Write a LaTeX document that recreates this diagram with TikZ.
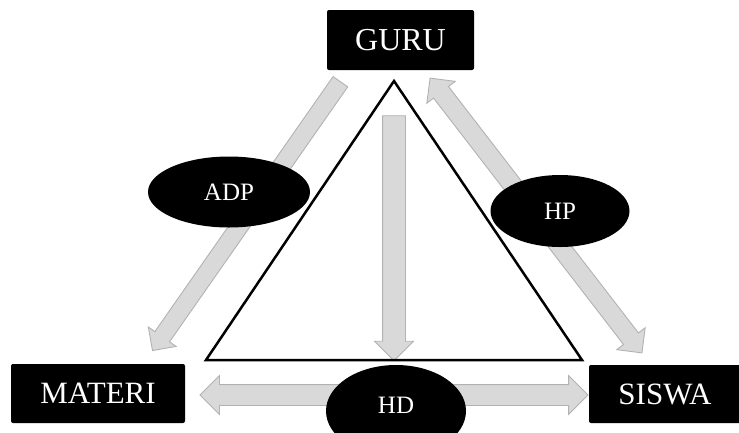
\documentclass[tikz,border=0pt]{standalone}
\usepackage{fontspec}
\setmainfont{Liberation Serif}
\usetikzlibrary{shapes.arrows,shapes.geometric}
\begin{document}
\begin{tikzpicture}[x=1pt,y=-1pt,
  blackbox/.style={fill=black,text=white,rounded corners=2pt,inner sep=0pt},
  blackoval/.style={ellipse,fill=black,text=white,inner sep=0pt},
  fatarrow/.style={single arrow,fill=gray!30,draw=gray!60,line width=0.9pt,
    inner xsep=0pt,text height=0pt,text depth=0pt,text width=0pt,
    single arrow tip angle=90,anchor=center},
  fatdouble/.style={double arrow,fill=gray!30,draw=gray!60,line width=0.9pt,
    inner xsep=0pt,text height=0pt,text depth=0pt,text width=0pt,
    double arrow tip angle=90,anchor=center}]
\useasboundingbox (0,0) rectangle (739,432);
\clip (0,0) rectangle (739,432);
% fat arrows
\node[fatarrow,inner ysep=8.5pt,single arrow head extend=8pt,
  minimum height=328pt,rotate=235.05] (adparrow) at (249,212.5) {};
\node[fatdouble,inner ysep=9pt,double arrow head extend=8.5pt,
  minimum height=347pt,rotate=-52.37] (hparrow) at (536,215.5) {};
\node[fatarrow,inner ysep=11pt,single arrow head extend=8pt,
  minimum height=245pt,rotate=-90] (vertarrow) at (394,232.5) {};
\node[fatdouble,inner ysep=10pt,double arrow head extend=9pt,
  minimum height=388pt] (hdarrow) at (394,395) {};
% triangle
\coordinate (apex) at (394,81);
\coordinate (bl) at (206,360);
\coordinate (br) at (582,360);
\draw[line width=2.5pt,line join=miter] (apex) -- (bl) -- (br) -- cycle;
% ovals
\node[blackoval,minimum width=162pt,minimum height=71pt] (adp) at (229,192)
  {\fontsize{25}{25}\selectfont ADP};
\node[blackoval,minimum width=139pt,minimum height=72pt] (hp) at (560,211)
  {\fontsize{25}{25}\selectfont HP};
\node[blackoval,minimum width=140pt,minimum height=92pt] (hdoval) at (396,411) {};
\node[text=white,inner sep=0pt] (hd) at (396,405) {\fontsize{25}{25}\selectfont HD};
% boxes
\node[blackbox,minimum width=147pt,minimum height=60pt] (guru) at (400.5,40)
  {\fontsize{32}{32}\selectfont GURU};
\node[blackbox,minimum width=174pt,minimum height=59pt] (materi) at (98,393.5)
  {\fontsize{31}{31}\selectfont MATERI};
\node[blackbox,minimum width=152pt,minimum height=58pt] (siswa) at (665,394)
  {\fontsize{31}{31}\selectfont SISWA};
\end{tikzpicture}
\end{document}
